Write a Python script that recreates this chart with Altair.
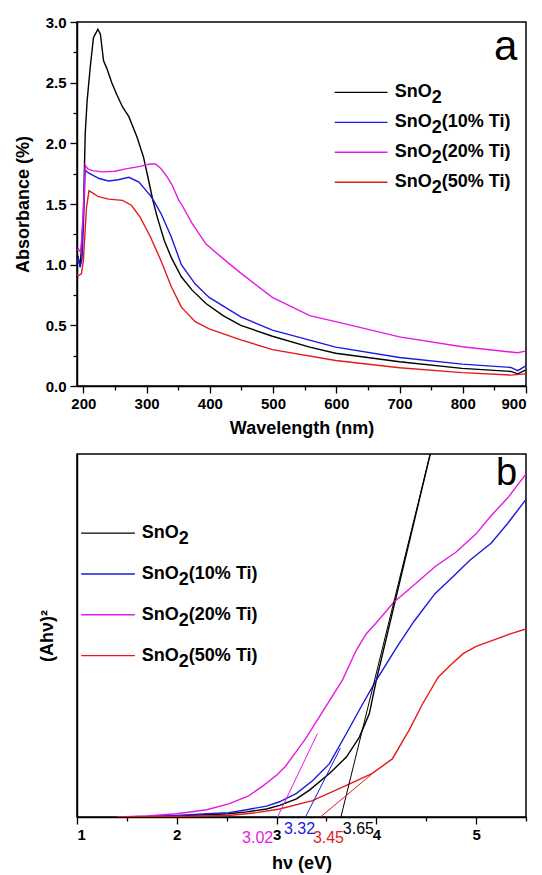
import altair as alt
import pandas as pd

FONT = "Liberation Sans"

# ---------------- data ----------------
series = ["SnO2", "SnO2(10% Ti)", "SnO2(20% Ti)", "SnO2(50% Ti)"]
suffixes = ["", "(10% Ti)", "(20% Ti)", "(50% Ti)"]
colors = ["#000000", "#1a1ae0", "#e51ae5", "#e51a1a"]

# panel a : absorbance vs wavelength
a_nm_0 = [190, 192, 195, 200, 203, 206, 211, 216, 223, 227, 232, 237, 245, 253, 262, 272, 285, 295, 303, 310, 317, 328, 339, 355, 372, 394, 421, 449, 499, 558, 599, 700, 799, 876, 887, 899]
a_ab_0 = [1.05, 1.06, 0.98, 1.4, 2.08, 2.35, 2.63, 2.87, 2.94, 2.9, 2.68, 2.62, 2.5, 2.4, 2.3, 2.22, 2.05, 1.89, 1.7, 1.53, 1.39, 1.2, 1.06, 0.9, 0.79, 0.68, 0.58, 0.5, 0.41, 0.32, 0.27, 0.2, 0.145, 0.12, 0.1, 0.13]
a_nm_1 = [190, 192, 195, 198, 200, 203, 207, 214, 225, 240, 255, 272, 288, 301, 306, 311, 323, 339, 355, 377, 399, 449, 499, 599, 700, 799, 876, 887, 899]
a_ab_1 = [1.02, 1.05, 0.98, 1.05, 1.3, 1.78, 1.76, 1.74, 1.71, 1.69, 1.7, 1.72, 1.68, 1.6, 1.57, 1.53, 1.42, 1.23, 1.0, 0.84, 0.73, 0.57, 0.46, 0.32, 0.235, 0.18, 0.153, 0.126, 0.164]
a_nm_2 = [190, 192, 196, 200, 203, 207, 215, 230, 250, 267, 290, 305, 314, 323, 333, 340, 351, 355, 372, 394, 421, 449, 499, 558, 599, 700, 799, 876, 887, 899]
a_ab_2 = [1.12, 1.13, 1.1, 1.45, 1.82, 1.79, 1.775, 1.765, 1.77, 1.79, 1.81, 1.83, 1.83, 1.79, 1.72, 1.66, 1.53, 1.5, 1.34, 1.17, 1.05, 0.93, 0.73, 0.58, 0.53, 0.405, 0.323, 0.28, 0.274, 0.287]
a_nm_3 = [190, 192, 197, 200, 205, 209, 215, 224, 240, 262, 276, 290, 306, 323, 339, 355, 377, 399, 449, 499, 599, 700, 799, 876, 899]
a_ab_3 = [0.92, 0.91, 0.925, 1.03, 1.47, 1.61, 1.59, 1.56, 1.54, 1.53, 1.49, 1.39, 1.23, 1.03, 0.82, 0.65, 0.53, 0.47, 0.38, 0.3, 0.21, 0.15, 0.11, 0.09, 0.1]

# panel b : (A h nu)^2 vs photon energy
b_ev_0 = [1.4, 1.7, 2.0, 2.3, 2.52, 2.7, 2.9, 3.03, 3.2, 3.33, 3.53, 3.7, 3.83, 3.93, 4.0, 4.54]
b_y_0 = [0, 0.1, 0.3, 0.6, 0.9, 1.4, 2.2, 3.2, 5.0, 7.4, 12, 16.5, 22, 28.5, 37.7, 100]
b_ev_1 = [1.4, 1.7, 2.0, 2.3, 2.52, 2.7, 2.9, 3.03, 3.2, 3.36, 3.53, 3.7, 3.86, 4.0, 4.21, 4.38, 4.59, 4.76, 4.94, 5.15, 5.32, 5.5]
b_y_1 = [0, 0.15, 0.45, 0.9, 1.2, 2.0, 3.0, 4.2, 6.5, 10, 14.7, 23, 31, 37.7, 47, 54, 61.6, 66, 70.8, 75.4, 81, 87.5]
b_ev_2 = [1.4, 1.7, 2.0, 2.3, 2.52, 2.72, 2.86, 3.0, 3.09, 3.29, 3.49, 3.66, 3.8, 3.9, 4.0, 4.17, 4.38, 4.59, 4.8, 5.0, 5.15, 5.32, 5.5]
b_y_2 = [0, 0.3, 0.9, 2.0, 3.6, 5.8, 8.5, 11.5, 14, 21.5, 30.3, 37.7, 46, 50.5, 53.5, 59, 64, 69, 73, 78, 83, 88, 94.5]
b_ev_3 = [1.4, 2.0, 2.52, 2.8, 3.03, 3.36, 3.7, 3.96, 4.16, 4.33, 4.46, 4.62, 4.75, 4.87, 5.0, 5.2, 5.35, 5.5]
b_y_3 = [0, 0.15, 0.4, 1.2, 2.2, 4.5, 8.7, 12, 16, 24, 31, 38.5, 42, 45, 47, 49, 50.5, 51.8]

# tangent (band-gap extrapolation) lines: start on axis, end on curve
tan_ev_start = [3.645, 3.29, 3.01, 3.44]
tan_ev_end = [4.54, 3.64, 3.41, 3.95]
tan_y_end = [100, 19, 23, 11.7]
gap_labels = ["3.65", "3.32", "3.02", "3.45"]

# ---------------- layout constants ----------------
W = 449
H_A = 364
H_B = 363
LW = 1.4

cscale = alt.Scale(domain=series, range=colors)


def long_df(xs, ys, xname, yname):
    rows = []
    for s, (xv, yv) in enumerate(zip(xs, ys)):
        for i, (x, y) in enumerate(zip(xv, yv)):
            rows.append({xname: x, yname: y, "series": series[s], "idx": i})
    return pd.DataFrame(rows)


df_a = long_df([a_nm_0, a_nm_1, a_nm_2, a_nm_3], [a_ab_0, a_ab_1, a_ab_2, a_ab_3], "nm", "ab")
df_b = long_df([b_ev_0, b_ev_1, b_ev_2, b_ev_3], [b_y_0, b_y_1, b_y_2, b_y_3], "ev", "y")


def legend_df(x1, x2, xt, y0, step):
    return pd.DataFrame({
        "series": series,
        "t1": ["SnO"] * 4,
        "t2": ["2"] * 4,
        "t3": suffixes,
        "x1": [x1] * 4,
        "x2": [x2] * 4,
        "xt": [xt] * 4,
        "y": [y0 + i * step for i in range(4)],
    })


def legend_layers(ldf):
    base = alt.Chart(ldf)
    rule = base.mark_rule(strokeWidth=LW).encode(
        x=alt.X("x1:Q", axis=None), x2="x2:Q",
        y=alt.Y("y:Q", axis=None),
        color=alt.Color("series:N", scale=cscale, legend=None))
    tkw = dict(align="left", baseline="middle", font=FONT, fontSize=18, fontWeight="bold", color="black")
    t1 = base.mark_text(**tkw).encode(x=alt.X("xt:Q", axis=None), y=alt.Y("y:Q", axis=None), text="t1:N")
    t2 = base.mark_text(dx=37, dy=6, **tkw).encode(x=alt.X("xt:Q", axis=None), y=alt.Y("y:Q", axis=None), text="t2:N")
    t3 = base.mark_text(dx=47, **tkw).encode(x=alt.X("xt:Q", axis=None), y=alt.Y("y:Q", axis=None), text="t3:N")
    return [rule, t1, t2, t3]


# ---------------- panel a ----------------
xs_a = alt.Scale(domain=[190, 900], nice=False, zero=False)
ys_a = alt.Scale(domain=[0, 3], nice=False, zero=True)

major_x_a = alt.Axis(values=[200, 300, 400, 500, 600, 700, 800, 900], title="Wavelength (nm)",
                     orient="bottom", tickSize=7, labelPadding=3, titlePadding=8, format="d")
major_y_a = alt.Axis(values=[0, 0.5, 1.0, 1.5, 2.0, 2.5, 3.0], title="Absorbance (%)",
                     orient="left", tickSize=7, labelPadding=4, titlePadding=13, format=".1f")
minor_x_a = alt.Axis(values=[250, 350, 450, 550, 650, 750, 850], labels=False, title=None,
                     orient="bottom", tickSize=4, domain=False)
minor_y_a = alt.Axis(values=[0.25, 0.75, 1.25, 1.75, 2.25, 2.75], labels=False, title=None,
                     orient="left", tickSize=4, domain=False)

lines_a = alt.Chart(df_a).mark_line(strokeWidth=LW, clip=True).encode(
    x=alt.X("nm:Q", scale=xs_a, axis=major_x_a),
    y=alt.Y("ab:Q", scale=ys_a, axis=major_y_a),
    color=alt.Color("series:N", scale=cscale, legend=None),
    order="idx:Q")
minor_a = alt.Chart(df_a).mark_point(opacity=0).encode(
    x=alt.X("nm:Q", axis=minor_x_a), y=alt.Y("ab:Q", axis=minor_y_a))

leg_a = legend_df(597.5, 681.0, 692.5, 2.42, -0.247)
lab_a = alt.Chart(pd.DataFrame({"t": ["a"], "x": [868], "y": [2.69]})).mark_text(
    align="center", baseline="alphabetic", font=FONT, fontSize=42, color="black").encode(
    x=alt.X("x:Q", axis=None), y=alt.Y("y:Q", axis=None), text="t:N")

panel_a = alt.layer(lines_a, minor_a, *legend_layers(leg_a), lab_a).resolve_axis(
    x="independent", y="independent").properties(width=W, height=H_A)

# ---------------- panel b ----------------
xs_b = alt.Scale(domain=[1, 5.5], nice=False, zero=False)
ys_b = alt.Scale(domain=[0, 100], nice=False, zero=True)

major_x_b = alt.Axis(values=[1, 2, 3, 4, 5], title="hν (eV)", orient="bottom", tickSize=7,
                     labelPadding=3, titlePadding=12, format="d")
major_y_b = alt.Axis(title="(Ahν)²", orient="left", ticks=False, labels=False, titlePadding=21)
minor_x_b = alt.Axis(values=[1.5, 2.5, 3.5, 4.5, 5.5], labels=False, title=None, orient="bottom",
                     tickSize=4, domain=False)

lines_b = alt.Chart(df_b).mark_line(strokeWidth=LW, clip=True).encode(
    x=alt.X("ev:Q", scale=xs_b, axis=major_x_b),
    y=alt.Y("y:Q", scale=ys_b, axis=major_y_b),
    color=alt.Color("series:N", scale=cscale, legend=None),
    order="idx:Q")
minor_b = alt.Chart(df_b).mark_point(opacity=0).encode(
    x=alt.X("ev:Q", axis=minor_x_b), y=alt.Y("y:Q", axis=None))

tan_df = pd.DataFrame({"series": series, "x1": tan_ev_start, "y1": [0] * 4,
                       "x2": tan_ev_end, "y2": tan_y_end})
tangents = alt.Chart(tan_df).mark_rule(strokeWidth=1.0, clip=True).encode(
    x=alt.X("x1:Q", axis=None), y=alt.Y("y1:Q", axis=None), x2="x2:Q", y2="y2:Q",
    color=alt.Color("series:N", scale=cscale, legend=None))

gap_df = pd.DataFrame({"series": series, "t": gap_labels,
                       "x": [3.82, 3.23, 2.81, 3.52], "y": [-3.4, -3.4, -5.9, -5.9]})
gaps = alt.Chart(gap_df).mark_text(font=FONT, fontSize=16, align="center", baseline="middle").encode(
    x=alt.X("x:Q", axis=None), y=alt.Y("y:Q", axis=None), text="t:N",
    color=alt.Color("series:N", scale=cscale, legend=None))

leg_b = legend_df(1.042, 1.58, 1.65, 78.2, -11.25)
lab_b = alt.Chart(pd.DataFrame({"t": ["b"], "x": [5.306], "y": [91.4]})).mark_text(
    align="center", baseline="alphabetic", font=FONT, fontSize=38, color="black").encode(
    x=alt.X("x:Q", axis=None), y=alt.Y("y:Q", axis=None), text="t:N")

panel_b = alt.layer(lines_b, minor_b, tangents, gaps, *legend_layers(leg_b), lab_b).resolve_axis(
    x="independent", y="independent").properties(width=W, height=H_B)

chart = alt.vconcat(panel_a, panel_b, spacing=68, bounds="flush").properties(
    padding={"left": 5, "top": 6, "right": 0, "bottom": 0},
    background="white",
).configure_view(stroke="black", strokeWidth=1.5).configure_axis(
    labelFont=FONT, labelFontSize=15, labelFontWeight="bold", labelColor="black",
    titleFont=FONT, titleFontSize=18, titleFontWeight="bold", titleColor="black",
    tickColor="black", tickWidth=1.3, domainColor="black", domainWidth=1.5, grid=False,
)

chart.save("out.html", embed_options={"renderer": "svg", "actions": False})
